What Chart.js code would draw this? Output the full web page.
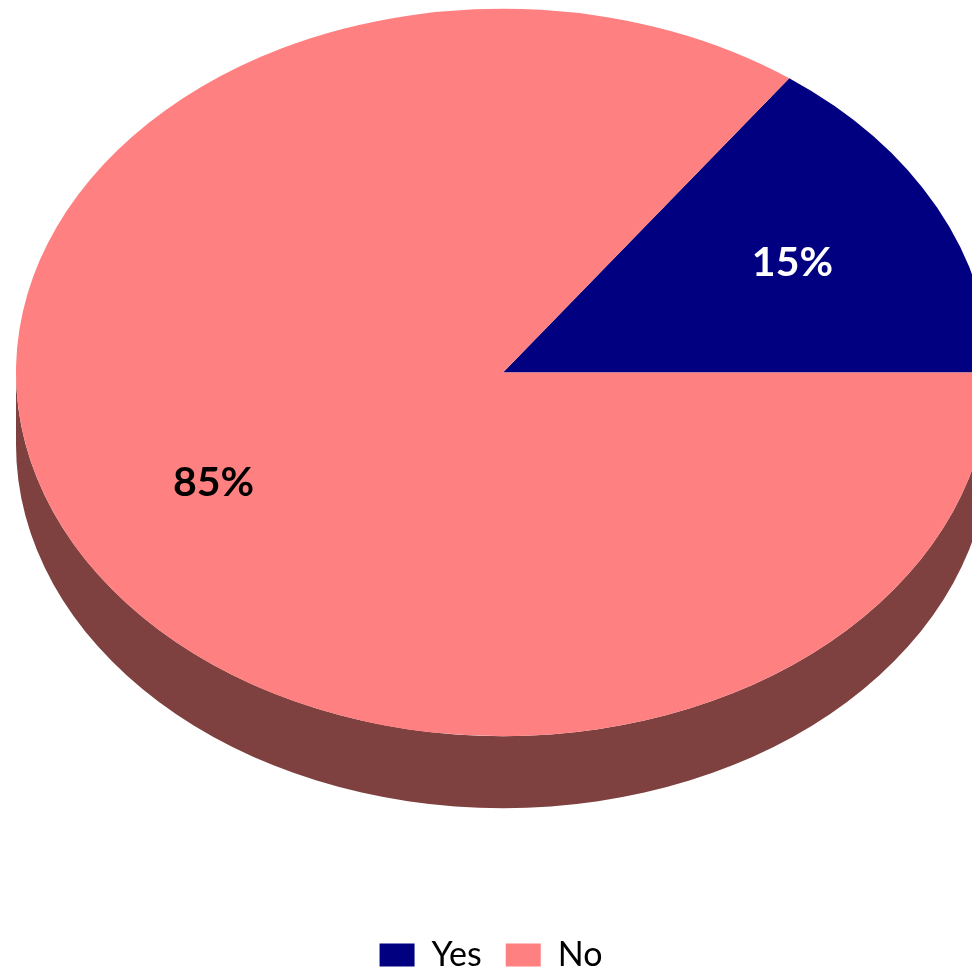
<!DOCTYPE html>
<html>
<head>
<meta charset="utf-8">
<script src="https://cdn.jsdelivr.net/npm/chart.js@4/dist/chart.umd.min.js"></script>
<style>
  html, body { margin: 0; padding: 0; background: #fff; overflow: hidden; width: 972px; height: 970px; }
  #wrap { position: absolute; left: -8px; top: -169px; width: 1014px; height: 1151px; }
</style>
</head>
<body>
<div id="wrap"><canvas id="c" width="1014" height="1151"></canvas></div>
<script>
const categories = ['Yes', 'No'];
const values = [15, 85];
const colors = ['#000080', '#FF8080'];
const sideColors = ['#000040', '#7F4040'];
const labelColors = ['#FFFFFF', '#000000'];

const TILT = 0.747;   // vertical squash of the pie top
const DEPTH = 72;     // thickness of the 3D side

const pie3d = {
  id: 'pie3d',
  beforeDatasetsDraw(chart) {
    const ctx = chart.ctx;
    const meta = chart.getDatasetMeta(0);
    const a0 = meta.data[0];
    const cx = a0.x, cy = a0.y, r = a0.outerRadius, ry = r * TILT;
    meta.data.forEach((arc, i) => {
      const s = arc.startAngle, e = arc.endAngle;
      for (let k = -1; k <= 1; k++) {
        const lo = Math.max(s, 2 * Math.PI * k);
        const hi = Math.min(e, 2 * Math.PI * k + Math.PI);
        if (hi > lo) {
          ctx.save();
          ctx.beginPath();
          ctx.ellipse(cx, cy, r, ry, 0, lo, hi, false);
          ctx.lineTo(cx + Math.cos(hi) * r, cy + DEPTH + Math.sin(hi) * ry);
          ctx.ellipse(cx, cy + DEPTH, r, ry, 0, hi, lo, true);
          ctx.closePath();
          ctx.fillStyle = sideColors[i];
          ctx.fill();
          ctx.restore();
        }
      }
    });
    ctx.save();
    ctx.translate(cx, cy);
    ctx.scale(1, TILT);
    ctx.translate(-cx, -cy);
  },
  afterDatasetsDraw(chart) {
    const ctx = chart.ctx;
    ctx.restore();
    const meta = chart.getDatasetMeta(0);
    const total = values.reduce((a, b) => a + b, 0);
    ctx.save();
    ctx.font = 'bold 41px Lato';
    ctx.textAlign = 'center';
    ctx.textBaseline = 'middle';
    meta.data.forEach((arc, i) => {
      const mid = (arc.startAngle + arc.endAngle) / 2;
      const d = arc.outerRadius * 0.667;
      const x = arc.x + Math.cos(mid) * d;
      const y = arc.y + Math.sin(mid) * d * TILT;
      ctx.fillStyle = labelColors[i];
      ctx.fillText(Math.round(values[i] / total * 100) + '%', x, y);
    });
    ctx.restore();
  }
};

new Chart(document.getElementById('c'), {
  type: 'pie',
  data: {
    labels: categories,
    datasets: [{
      data: values,
      backgroundColor: colors,
      borderWidth: 0
    }]
  },
  options: {
    responsive: false,
    animation: false,
    rotation: 36,
    layout: { padding: { left: 0, right: 16, top: 0, bottom: 0 } },
    plugins: {
      tooltip: { enabled: false },
      title: {
        display: true,
        position: 'left',
        text: '',
        font: { size: 8, lineHeight: 1 },
        padding: 8
      },
      legend: {
        position: 'bottom',
        labels: {
          boxWidth: 35,
          boxHeight: 23,
          padding: 24,
          color: '#000',
          font: { family: 'Lato', size: 34 }
        }
      }
    }
  },
  plugins: [pie3d]
});
</script>
</body>
</html>
